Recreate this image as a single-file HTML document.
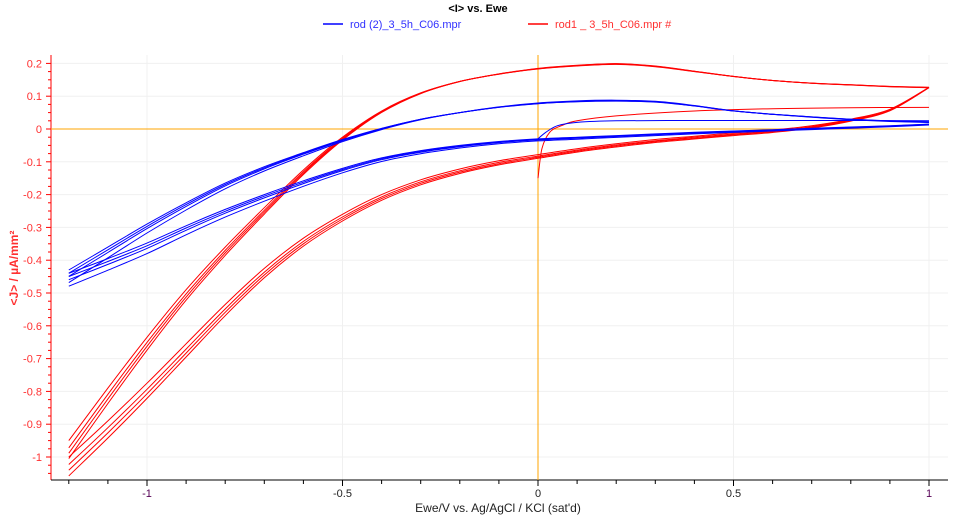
<!DOCTYPE html>
<html><head><meta charset="utf-8"><style>
body{margin:0;background:#fff;font-family:"Liberation Sans",sans-serif}
svg text{font-family:"Liberation Sans",sans-serif}
</style></head><body>
<svg id="chart" width="956" height="518" xmlns="http://www.w3.org/2000/svg">
<text x="478" y="12" font-size="11" font-weight="bold" text-anchor="middle" fill="#000">&lt;I&gt; vs. Ewe</text>
<g><line x1="323" y1="24" x2="343" y2="24" stroke="#0000ff" stroke-width="1.5"/><text x="350" y="28" font-size="11" fill="#3030ff">rod  (2)_3_5h_C06.mpr</text></g>
<g><line x1="528" y1="24" x2="548" y2="24" stroke="#ff0000" stroke-width="1.5"/><text x="555" y="28" font-size="11" fill="#ff3030">rod1 _ 3_5h_C06.mpr #</text></g>
<g id="grid"></g>
<g id="axes"></g>
<g id="series"></g>
<text x="498" y="512" font-size="12" text-anchor="middle" fill="#222">Ewe/V vs. Ag/AgCl / KCl (sat'd)</text>
<text transform="translate(18,268) rotate(-90)" font-size="12" font-weight="bold" text-anchor="middle" fill="#ff3030">&lt;J&gt; / µA/mm²</text>
</svg>
<script>
const E=[-1.2,-1.1,-1.0,-0.9,-0.8,-0.7,-0.6,-0.5,-0.4,-0.3,-0.2,-0.1,0,0.1,0.2,0.3,0.4,0.5,0.6,0.7,0.8,0.9,1.0];
const blueUpper=[-0.43,-0.36,-0.29,-0.225,-0.165,-0.115,-0.072,-0.032,0.002,0.03,0.05,0.066,0.077,0.083,0.085,0.082,0.07,0.055,0.045,0.037,0.03,0.025,0.022];
const blueLower=[-0.44,-0.395,-0.348,-0.295,-0.245,-0.2,-0.158,-0.12,-0.088,-0.066,-0.05,-0.038,-0.03,-0.025,-0.02,-0.015,-0.01,-0.006,-0.002,0.002,0.006,0.01,0.015];
const redUpper=[-0.95,-0.79,-0.635,-0.49,-0.36,-0.24,-0.125,-0.025,0.055,0.11,0.145,0.167,0.183,0.192,0.197,0.19,0.175,0.16,0.148,0.14,0.135,0.13,0.127];
const redLower=[-1.0,-0.89,-0.775,-0.655,-0.535,-0.425,-0.333,-0.26,-0.2,-0.155,-0.122,-0.097,-0.078,-0.06,-0.045,-0.032,-0.022,-0.012,-0.003,0.01,0.03,0.06,0.127];
const blueCycles=[0,0.02,0.04,0.08];
const redCycles=[0,0.02,0.035,0.05];
const blueInitE=[0,0.02,0.05,0.1,0.2,0.4,0.6,0.8,1.0];
const blueInitJ=[-0.03,-0.01,0.01,0.02,0.025,0.026,0.026,0.026,0.025];
const redInitE=[0,0.01,0.03,0.06,0.1,0.2,0.4,0.6,0.8,1.0];
const redInitJ=[-0.15,-0.06,-0.01,0.01,0.025,0.04,0.055,0.062,0.065,0.066];
const xTicks=[-1,-0.5,0,0.5,1];
const yTicks=[0.2,0.1,0,-0.1,-0.2,-0.3,-0.4,-0.5,-0.6,-0.7,-0.8,-0.9,-1];
const NS="http://www.w3.org/2000/svg";
const L=51,R=948,T=55,B=480;
const xs=v=>538+v*391, ys=v=>129-v*328;
function mk(p,t,a){const e=document.createElementNS(NS,t);for(const k in a)e.setAttribute(k,a[k]);p.appendChild(e);return e;}
const grid=document.getElementById('grid'),axes=document.getElementById('axes'),ser=document.getElementById('series');
for(const t of xTicks){const g=mk(grid,'line',{x1:xs(t),x2:xs(t),y1:T,y2:B,stroke:'#f0f0f0'});
}
for(const t of yTicks){const g=mk(grid,'line',{x1:L,x2:R,y1:ys(t),y2:ys(t),stroke:'#f0f0f0'});
}
mk(axes,'line',{x1:L,x2:L,y1:T,y2:B,stroke:'#ff0000'});
mk(axes,'line',{x1:L,x2:R,y1:B,y2:B,stroke:'#000'});
for(let v=-1.2;v<=1.0001;v+=0.1){mk(axes,'line',{x1:xs(v),x2:xs(v),y1:B,y2:B+(Math.abs(v*2-Math.round(v*2))<1e-6?6:4),stroke:'#000'});}
for(let v=-1.05;v<=0.2001;v+=0.025){const mj=Math.abs(v*10-Math.round(v*10))<1e-6;mk(axes,'line',{x1:L-(mj?5:3),x2:L,y1:ys(v),y2:ys(v),stroke:'#ff0000'});}
for(const t of xTicks){const tx=mk(axes,'text',{x:xs(t),y:497,'font-size':11,'text-anchor':'middle',fill:(Math.abs(t)==1?'#550055':'#222')});tx.textContent=String(t);
}
for(const t of yTicks){const tx=mk(axes,'text',{x:L-9,y:ys(t)+4,'font-size':11,'text-anchor':'end',fill:'#ff3030'});tx.textContent=String(t);
}
mk(axes,'line',{x1:xs(0),x2:xs(0),y1:T,y2:B,stroke:'#ffa500'});
mk(axes,'line',{x1:L,x2:R,y1:ys(0),y2:ys(0),stroke:'#ffa500'});
function smooth(pts){let d='M'+pts[0][0].toFixed(1)+','+pts[0][1].toFixed(1);
for(let i=0;i<pts.length-1;i++){const p0=pts[Math.max(0,i-1)],p1=pts[i],p2=pts[i+1],p3=pts[Math.min(pts.length-1,i+2)];
const c1=[p1[0]+(p2[0]-p0[0])/6,p1[1]+(p2[1]-p0[1])/6],c2=[p2[0]-(p3[0]-p1[0])/6,p2[1]-(p3[1]-p1[1])/6];
d+='C'+c1[0].toFixed(1)+','+c1[1].toFixed(1)+' '+c2[0].toFixed(1)+','+c2[1].toFixed(1)+' '+p2[0].toFixed(1)+','+p2[1].toFixed(1);}
return d;}
function loop(up,lo,s,col,name,ref){const a=[],b=[];
for(let i=0;i<E.length;i++)a.push([xs(E[i]),ys(up[i]+s*(up[i]-ref))]);
for(let i=E.length-1;i>=0;i--)b.push([xs(E[i]),ys(lo[i]+s*(lo[i]-ref))]);
for(const pts of [a,b]){const p=mk(ser,'path',{d:smooth(pts),fill:'none',stroke:col,'stroke-width':1});
}}
function init(ex,jy,col,name){const pts=ex.map((e,i)=>[xs(e),ys(jy[i])]);
const p=mk(ser,'path',{d:smooth(pts),fill:'none',stroke:col,'stroke-width':1});
}
for(const s of redCycles)loop(redUpper,redLower,s,'#ff0000','red-cycle',0.15);
init(redInitE,redInitJ,'#ff0000','red-initial-sweep');
for(const s of blueCycles)loop(blueUpper,blueLower,s,'#0000ff','blue-cycle',0.05);
init(blueInitE,blueInitJ,'#0000ff','blue-initial-sweep');
</script>
</body></html>
